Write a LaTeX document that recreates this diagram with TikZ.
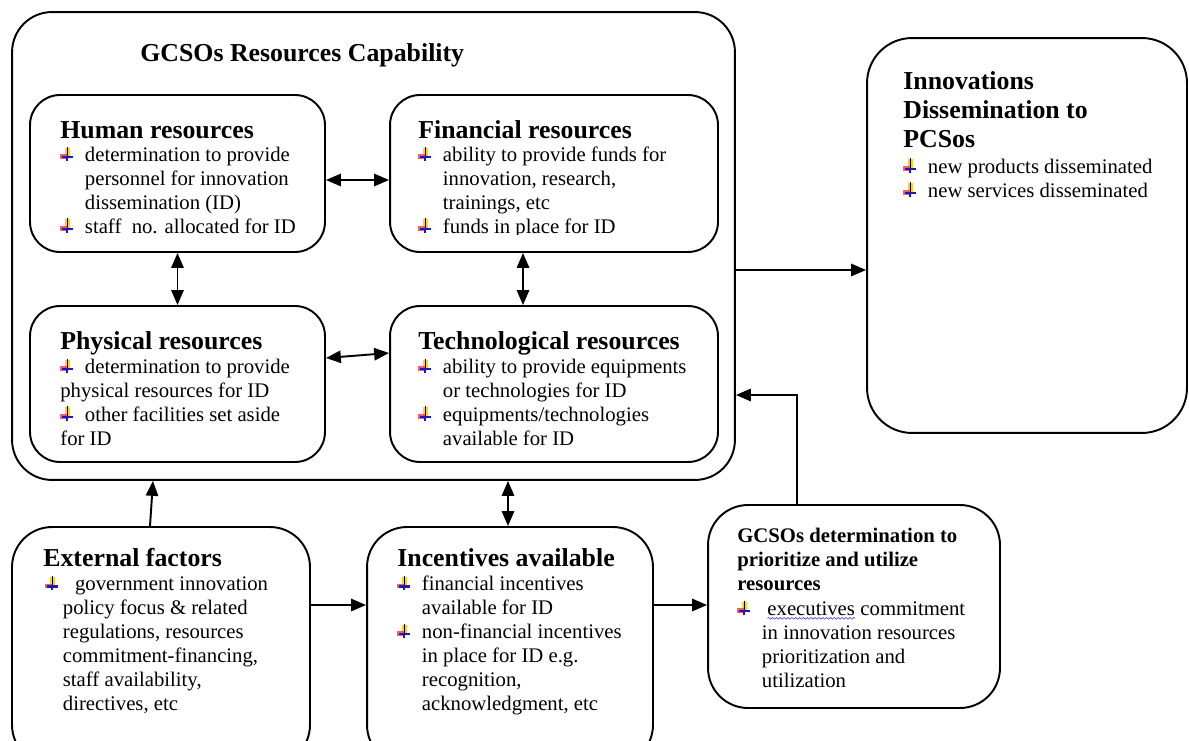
\documentclass[tikz,border=0pt]{standalone}
\usepackage{fontspec}
\setmainfont{Liberation Serif}
\usetikzlibrary{arrows.meta,decorations.pathmorphing,positioning}
\definecolor{bulyellow}{rgb}{1.0, 0.82, 0.1}
\definecolor{bulred}{rgb}{0.95, 0.25, 0.3}
\definecolor{bulblue}{rgb}{0.1, 0.1, 0.75}

\newcommand{\hdfont}{\fontsize{14.7}{16.5}\selectfont\bfseries}
\newcommand{\txfont}{\fontsize{11.8}{13.6}\selectfont}
\newcommand{\smhdfont}{\fontsize{11.8}{13.6}\selectfont\bfseries}
\newcommand{\bul}{\makebox[14pt][l]{\tikz[baseline=0pt,x=1.3pt,y=1.3pt]{%
\fill[bulyellow] (2.0,2.4) rectangle (4.2,6.0);
\fill[bulred,opacity=0.85] (0,0.9) rectangle (2.8,3.0);
\fill[bulblue] (0.8,1.3) rectangle (5.4,2.4);
\draw[black,line width=0.5pt] (2.9,2.3) -- (2.9,6.4);
\fill[bulblue] (2.4,0.1) rectangle (3.4,2.4);}}}
\newcommand{\ind}{\hspace*{14pt}}
\newcommand{\wavy}[1]{\tikz[baseline=(w.base)]{\node[inner sep=0pt,outer sep=0pt] (w) {#1};
\draw[blue!75,line width=0.35pt,decorate,decoration={snake,amplitude=0.5pt,segment length=2.2pt}]
([yshift=-1.6pt]w.south west) -- ([yshift=-1.6pt]w.south east);}}

\begin{document}
\begin{tikzpicture}[x=0.02cm,y=-0.02cm,
  box/.style={draw,line width=1.1pt,rounded corners=0.6cm,inner sep=0pt},
  hd/.style={anchor=base west,inner sep=0pt,font=\hdfont,align=left},
  tx/.style={anchor=base west,inner sep=0pt,font=\txfont,align=left},
  arr/.style={line width=1.1pt,-{Triangle[length=8.5pt,width=7pt]}},
  dbl/.style={line width=1.1pt,{Triangle[length=8.5pt,width=7pt]}-{Triangle[length=8.5pt,width=7pt]}}]
\useasboundingbox (0,0) rectangle (1189,740);
\clip (0,0) rectangle (1189,740);

% boxes
\node (cap) at (373.5,246) [box,rounded corners=0.8cm,minimum width=14.46cm,minimum height=9.36cm] {};
\node (hum) at (177.5,173.5) [box,minimum width=5.9cm,minimum height=3.14cm] {};
\node (fin) at (554,173.5) [box,minimum width=6.56cm,minimum height=3.14cm] {};
\node (phy) at (177.5,384) [box,minimum width=5.9cm,minimum height=3.12cm] {};
\node (tec) at (554,384) [box,minimum width=6.56cm,minimum height=3.12cm] {};
\node (inn) at (1027,235.5) [box,rounded corners=0.9cm,minimum width=6.4cm,minimum height=7.9cm] {};
\node (ext) at (161,646) [box,rounded corners=0.8cm,minimum width=5.96cm,minimum height=4.76cm] {};
\node (inc) at (510,646) [box,rounded corners=0.8cm,minimum width=5.72cm,minimum height=4.76cm] {};
\node (det) at (854,606.5) [box,rounded corners=0.8cm,minimum width=5.84cm,minimum height=4.06cm] {};

% texts (base = last line)
\node (capH) at (140,62) [hd] {GCSOs Resources Capability};

\node (humH) at (60,138) [hd] {Human resources};
\node (humT) at (60,233) [tx] {\bul determination to provide\\ \ind personnel for innovation\\
  \ind dissemination (ID)\\ \bul staff\ \ no. allocated for ID};

\node (finH) at (418,138) [hd] {Financial resources};
\begin{scope}
\clip (390,95) rectangle (718,234);
\node (finT) at (418,233) [tx] {\bul ability to provide funds for\\ \ind innovation, research,\\
  \ind trainings, etc\\ \bul funds in place for ID};
\end{scope}

\node (phyH) at (60,349) [hd] {Physical resources};
\node (phyT) at (60,445) [tx] {\bul determination to provide\\ physical resources for ID\\
  \bul other facilities set aside\\ for ID};

\node (tecH) at (418,349) [hd] {Technological resources};
\node (tecT) at (418,445) [tx] {\bul ability to provide equipments\\ \ind or technologies for ID\\
  \bul equipments/technologies\\ \ind available for ID};

\node (innH) at (903,147) [hd] {Innovations\\ Dissemination to\\ PCSos};
\node (innT) at (903,197) [tx] {\bul new products disseminated\\ \bul new services disseminated};

\node (extH) at (43,566) [hd] {External factors};
\node (extT) at (45,710) [tx] {\bul\ government innovation\\ \hspace*{10pt}policy focus \& related\\
  \hspace*{10pt}regulations, resources\\ \hspace*{10pt}commitment-financing,\\
  \hspace*{10pt}staff availability,\\ \hspace*{10pt}directives, etc};

\node (incH) at (397,566) [hd] {Incentives available};
\node (incT) at (397,710) [tx] {\bul financial incentives\\ \ind available for ID\\
  \bul non-financial incentives\\ \ind in place for ID e.g.\\ \ind recognition,\\ \ind acknowledgment, etc};

\node (detH) at (737,590) [hd,font=\smhdfont] {GCSOs determination to\\ prioritize and utilize\\ resources};
\node (detT) at (737,687) [tx] {\bul\ \wavy{executives} commitment\\ \ind in innovation resources\\
  \ind prioritization and\\ \ind utilization};

% connectors
\draw[dbl] (hum.east |- 0,180) -- (fin.west |- 0,180);
\draw[dbl] (hum.south) -- (phy.north);
\draw[dbl] (fin.south -| 523,0) -- (tec.north -| 523,0);
\draw[dbl] (phy.east |- 0,358) -- (tec.west |- 0,353);
\draw[arr] (cap.east |- 0,270) -- (inn.west |- 0,270);
\draw[arr] (ext.north -| 150,0) -- (cap.south -| 153,0);
\draw[dbl] (inc.north -| 508,0) -- (cap.south -| 508,0);
\draw[arr] (ext.east |- 0,605) -- (inc.west |- 0,605);
\draw[arr] (inc.east |- 0,605) -- (det.west |- 0,605);
\draw[arr] (det.north -| 797,0) |- (cap.east |- 0,395);
\end{tikzpicture}
\end{document}
